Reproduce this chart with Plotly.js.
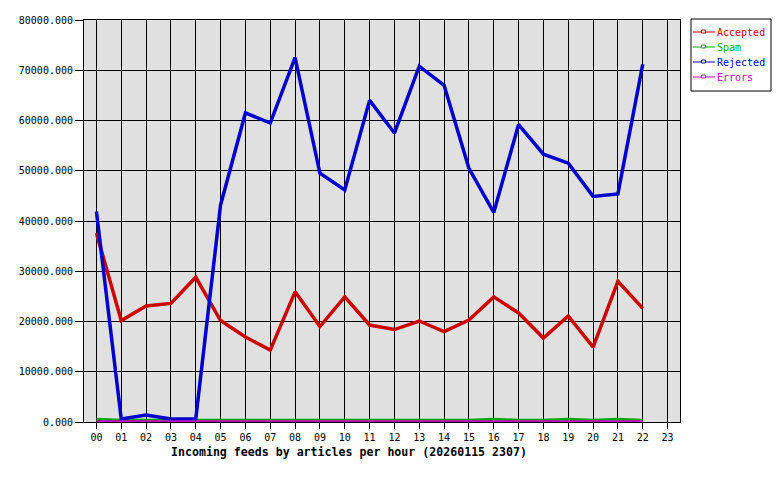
<!DOCTYPE html>
<html>
<head>
<meta charset="utf-8">
<script src="https://cdn.plot.ly/plotly-3.0.1.min.js"></script>
<style>
html,body{margin:0;padding:0;background:#fff;}
#chart{width:780px;height:480px;}
</style>
</head>
<body>
<div id="chart"></div>
<script>
// Hours (x categories)
var hours = ["00","01","02","03","04","05","06","07","08","09","10","11","12","13","14","15","16","17","18","19","20","21","22","23"];
var dataHours = hours.slice(0, 23);

// Series values (articles per hour)
var accepted = [37600,20200,23100,23600,28800,20200,16900,14300,25900,19000,24900,19300,18400,20100,18000,20300,24900,21700,16700,21100,14900,28000,22600];
var spam     = [500,300,300,300,300,300,300,300,300,300,300,300,300,300,300,300,500,300,300,500,300,500,300];
var rejected = [41900,600,1400,600,600,43200,61500,59500,72500,49500,46200,64000,57500,70800,67000,50500,41700,59200,53300,51500,44900,45400,71200];
var errors   = [0,0,0,0,0,0,0,0,0,0,0,0,0,0,0,0,0,0,0,0,0,0,0];

var seriesNames  = ["Accepted","Spam","Rejected","Errors"];
var seriesColors = ["#cc0000","#00aa00","#0000cc","#cc00cc"];
var seriesValues = [accepted, spam, rejected, errors];

var yTicks = [0,10000,20000,30000,40000,50000,60000,70000,80000];
var xTitle = "Incoming feeds by articles per hour (20260115 2307)";

var mono = "DejaVu Sans Mono, monospace";
var W = 780, H = 480, ML = 84, MR = 100, MT = 20, MB = 58;
var PW = W - ML - MR, PH = H - MT - MB;
function px(xp) { return (xp - ML) / PW; }
function py(yp) { return (H - MB - yp) / PH; }

var traces = [];
for (var i = 0; i < seriesNames.length; i++) {
  traces.push({
    type: "scatter", mode: "lines",
    x: dataHours, y: seriesValues[i],
    name: seriesNames[i],
    line: {color: seriesColors[i], width: 3.5},
    showlegend: false, hoverinfo: "skip"
  });
}

// Legend (box, line-with-square symbols, coloured labels)
var shapes = [{
  type: "rect", xref: "paper", yref: "paper",
  x0: px(691), x1: px(771), y0: py(91), y1: py(19),
  line: {color: "#000", width: 1}, fillcolor: "#fff", layer: "above"
}];
var annotations = [{
  text: "<b>" + xTitle + "</b>",
  xref: "paper", yref: "paper",
  x: px(348.5), y: py(452), xanchor: "center", yanchor: "middle",
  showarrow: false,
  font: {family: mono, size: 11.6, color: "#000"}
}];
for (var k = 0; k < seriesNames.length; k++) {
  var ly = 32 + 15 * k;
  shapes.push({
    type: "line", xref: "paper", yref: "paper",
    x0: px(693), x1: px(715), y0: py(ly), y1: py(ly),
    line: {color: seriesColors[k], width: 1}, layer: "above"
  });
  shapes.push({
    type: "rect", xref: "paper", yref: "paper",
    x0: px(701.5), x1: px(705.5), y0: py(ly + 1), y1: py(ly - 2),
    line: {color: seriesColors[k], width: 1}, fillcolor: "#fff", layer: "above"
  });
  annotations.push({
    text: seriesNames[k], xref: "paper", yref: "paper",
    x: px(715), y: py(ly + 0.5), xanchor: "left", yanchor: "middle",
    showarrow: false,
    font: {family: mono, size: 10, color: seriesColors[k]}
  });
}

var layout = {
  width: W, height: H,
  margin: {l: ML, r: MR, t: MT, b: MB, pad: 0, autoexpand: false},
  paper_bgcolor: "#ffffff",
  plot_bgcolor: "#e0e0e0",
  font: {family: mono, size: 10, color: "#000"},
  showlegend: false,
  xaxis: {
    type: "category", categoryorder: "array", categoryarray: hours,
    range: [-0.5, 23.5],
    showgrid: true, gridcolor: "#000", gridwidth: 1,
    showline: true, linecolor: "#000", linewidth: 1, mirror: true,
    ticks: "outside", ticklen: 6, tickcolor: "#000", tickwidth: 1,
    tickfont: {family: mono, size: 10, color: "#000"},
    zeroline: false, fixedrange: true, automargin: false
  },
  yaxis: {
    range: [0, 80000], tickvals: yTicks, tickformat: ".3f",
    showgrid: true, gridcolor: "#000", gridwidth: 1,
    showline: true, linecolor: "#000", linewidth: 1, mirror: true,
    ticks: "outside", ticklen: 8, tickcolor: "#000", tickwidth: 1,
    tickfont: {family: mono, size: 10, color: "#000"},
    zeroline: false, fixedrange: true, automargin: false
  },
  shapes: shapes,
  annotations: annotations
};

Plotly.newPlot("chart", traces, layout, {displayModeBar: false, staticPlot: true});
</script>
</body>
</html>
